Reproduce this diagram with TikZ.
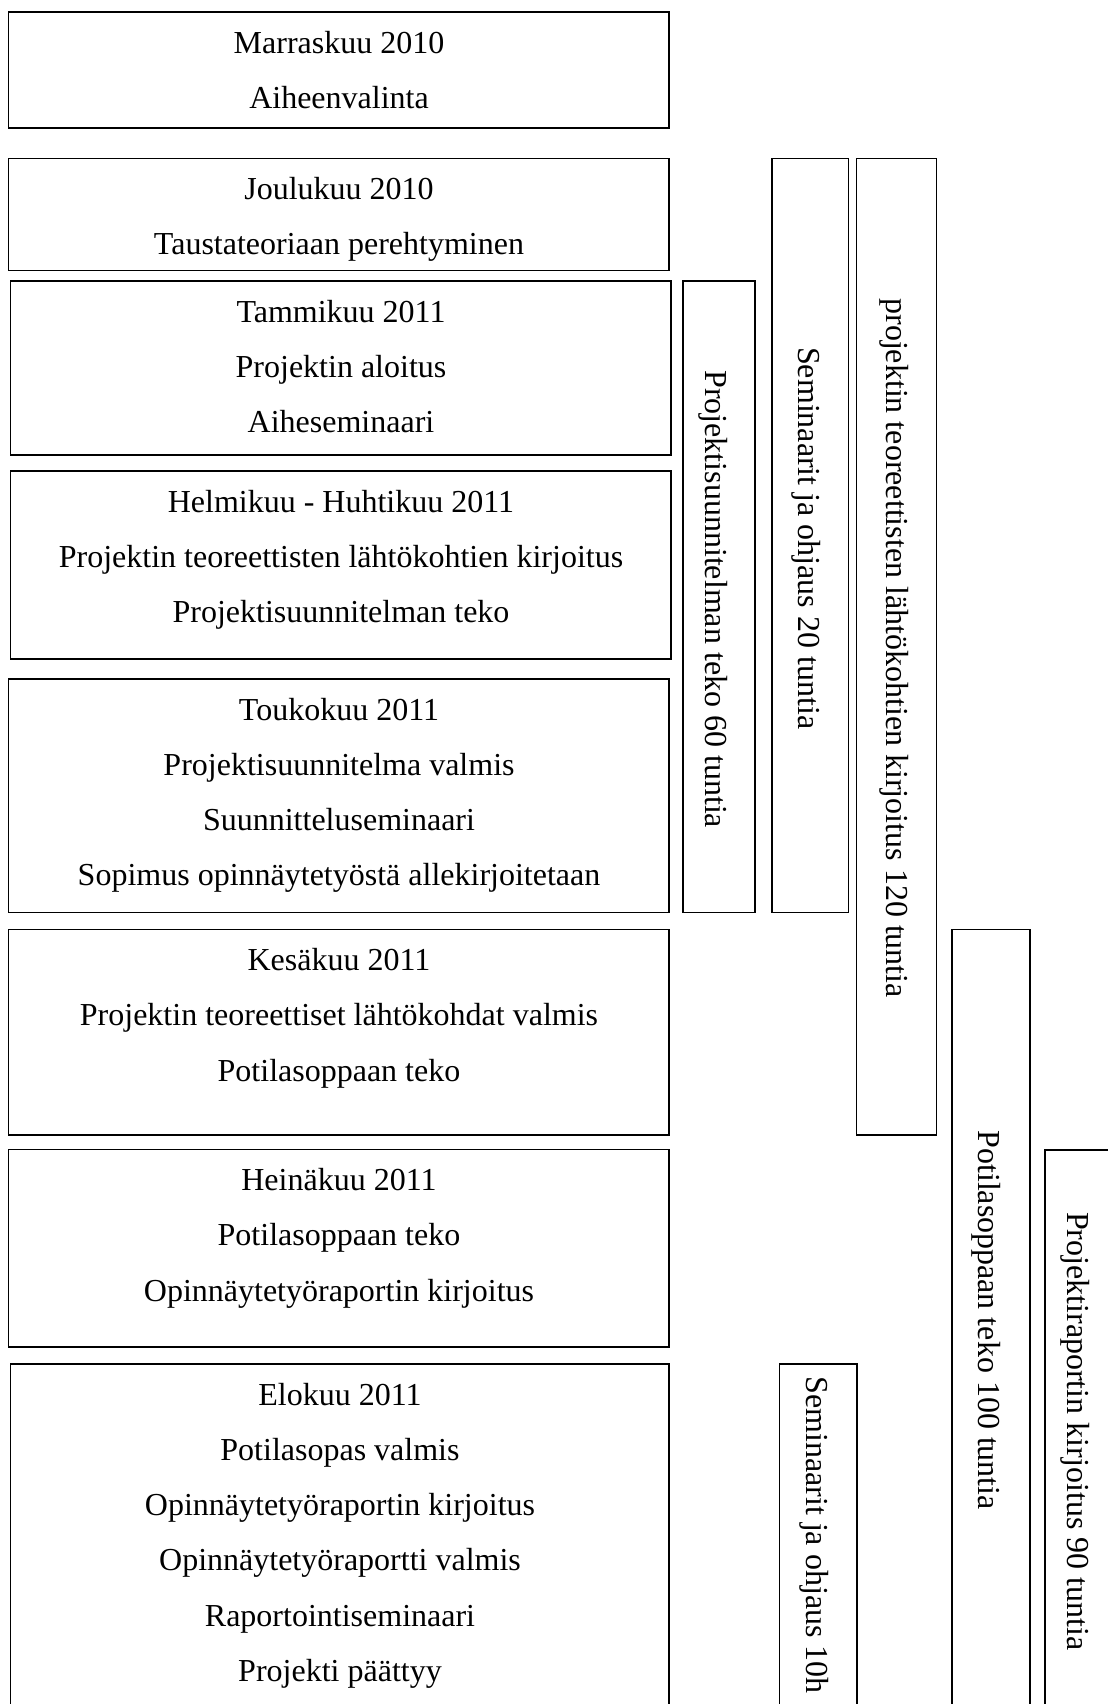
\documentclass[tikz,border=0pt]{standalone}
\usepackage{fontspec}
\setmainfont{Liberation Serif}
\usepackage{tikz}
\usepackage{xcolor}
\usetikzlibrary{positioning}

\tikzset{
  laatikko/.style={draw=black, line width=0.7pt},
  rivi/.style={anchor=base, inner sep=0pt, font=\fontsize{16}{19}\selectfont},
  pysty/.style={anchor=base west, rotate=-90, inner sep=0pt, font=\fontsize{16}{19}\selectfont},
}

\begin{document}
\begin{tikzpicture}[x=0.5pt, y=-0.5pt]
\useasboundingbox (0,0) rectangle (1108,1704);
\clip (0,0) rectangle (1108,1704);
% kuukaudet
\draw[laatikko] (8.5,12) rectangle (669,128);
\node[rivi] (marras1) at (339,53) {Marraskuu 2010};
\node[rivi] (marras2) at (339,108.3) {Aiheenvalinta};
\draw[laatikko] (8.5,158.5) rectangle (669,270.5);
\node[rivi] (joulu1) at (339,199.5) {Joulukuu 2010};
\node[rivi] (joulu2) at (339,254.8) {Taustateoriaan perehtyminen};
\draw[laatikko] (10.6,281) rectangle (671,455);
\node[rivi] (tammi1) at (341,322) {Tammikuu 2011};
\node[rivi] (tammi2) at (341,377.3) {Projektin aloitus};
\node[rivi] (tammi3) at (341,432.6) {Aiheseminaari};
\draw[laatikko] (10.6,471) rectangle (671,659);
\node[rivi] (helmi1) at (341,512) {Helmikuu - Huhtikuu 2011};
\node[rivi] (helmi2) at (341,567.3) {Projektin teoreettisten lähtökohtien kirjoitus};
\node[rivi] (helmi3) at (341,622.6) {Projektisuunnitelman teko};
\draw[laatikko] (8.5,679) rectangle (669,912.5);
\node[rivi] (touko1) at (339,720) {Toukokuu 2011};
\node[rivi] (touko2) at (339,775.3) {Projektisuunnitelma valmis};
\node[rivi] (touko3) at (339,830.6) {Suunnitteluseminaari};
\node[rivi] (touko4) at (339,885.9) {Sopimus opinnäytetyöstä allekirjoitetaan};
\draw[laatikko] (8.5,929.5) rectangle (669,1135);
\node[rivi] (kesa1) at (339,970.5) {Kesäkuu 2011};
\node[rivi] (kesa2) at (339,1025.8) {Projektin teoreettiset lähtökohdat valmis};
\node[rivi] (kesa3) at (339,1081.1) {Potilasoppaan teko};
\draw[laatikko] (8.5,1149.6) rectangle (669,1347);
\node[rivi] (heina1) at (339,1190.6) {Heinäkuu 2011};
\node[rivi] (heina2) at (339,1245.9) {Potilasoppaan teko};
\node[rivi] (heina3) at (339,1301.2) {Opinnäytetyöraportin kirjoitus};
\draw[laatikko] (10.6,1364) rectangle (669,1760); % jatkuu sivun yli
\node[rivi] (elo1) at (340,1405) {Elokuu 2011};
\node[rivi] (elo2) at (340,1460.3) {Potilasopas valmis};
\node[rivi] (elo3) at (340,1515.6) {Opinnäytetyöraportin kirjoitus};
\node[rivi] (elo4) at (340,1570.9) {Opinnäytetyöraportti valmis};
\node[rivi] (elo5) at (340,1626.2) {Raportointiseminaari};
\node[rivi] (elo6) at (340,1681.5) {Projekti päättyy};
% tuntimaarat
\draw[laatikko] (683,281) rectangle (755,912.5);
\node[pysty] (suunn) at (705,370) {Projektisuunnitelman teko 60 tuntia};
\draw[laatikko] (772,158.5) rectangle (848.5,912.5);
\node[pysty] (semi20) at (798.3,346.7) {Seminaarit ja ohjaus 20 tuntia};
\draw[laatikko] (856.5,158.5) rectangle (936.5,1135);
\node[pysty] (teoria) at (886,298) {projektin teoreettisten lähtökohtien kirjoitus 120 tuntia};
\draw[laatikko] (952,929.5) rectangle (1030,1760);
\node[pysty] (opas) at (978.3,1130) {Potilasoppaan teko 100 tuntia};
\draw[laatikko] (1045,1150) rectangle (1122,1760);
\node[pysty] (raportti) at (1067,1211.7) {Projektiraportin kirjoitus 90 tuntia};
\draw[laatikko] (779.5,1364) rectangle (857,1760);
\node[pysty] (semi10) at (806.7,1376) {Seminaarit ja ohjaus 10h};
\end{tikzpicture}
\end{document}
